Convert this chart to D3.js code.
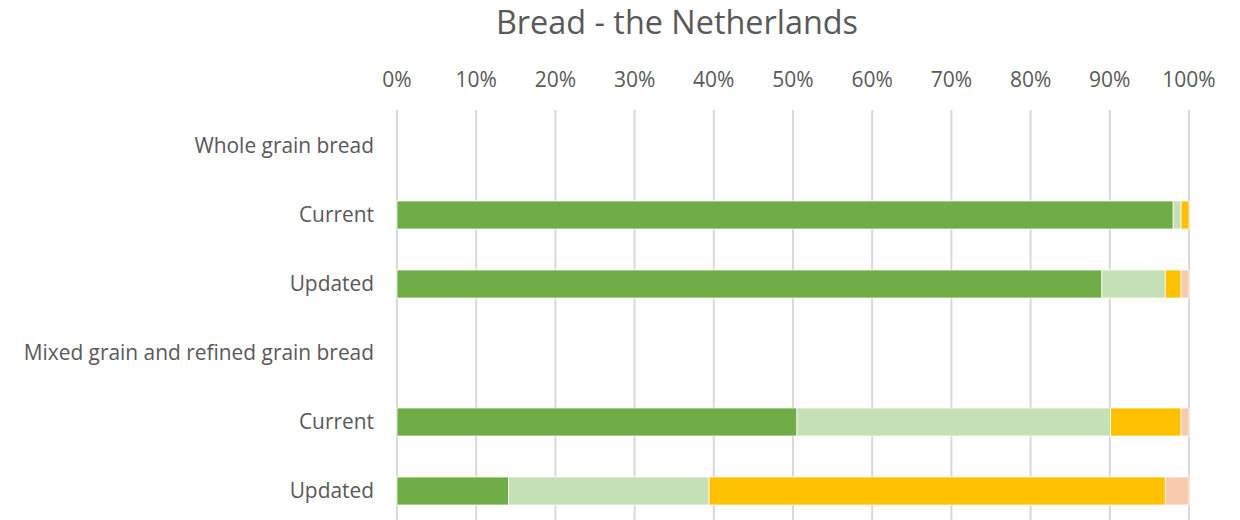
<!DOCTYPE html>
<html><head><meta charset="utf-8">
<script src="https://cdn.jsdelivr.net/npm/d3@7"></script>
<style>body{margin:0;background:#fff;} text{font-family:"Open Sans",sans-serif;fill:#595959;}</style>
</head><body>
<svg id="c" width="1240" height="520"></svg>
<script>
const title = "Bread - the Netherlands";
const rowLabels = ["Whole grain bread","Current","Updated","Mixed grain and refined grain bread","Current","Updated"];
const seriesNames = ["s1","s2","s3","s4"];
const s1 = [0, 98, 89, 0, 50.5, 14.1];
const s2 = [0, 1, 8, 0, 39.6, 25.3];
const s3 = [0, 1, 2, 0, 8.9, 57.6];
const s4 = [0, 0, 1, 0, 1, 3];
const colors = ["#70AD47","#C5E0B4","#FFC000","#F8CBAD"];
const xTicks = [0,0.1,0.2,0.3,0.4,0.5,0.6,0.7,0.8,0.9,1];

const svg = d3.select("#c");
const x = d3.scaleLinear().domain([0,1]).range([397,1189]);
const y = d3.scaleBand().domain(d3.range(rowLabels.length)).range([111.5,525.5]).paddingInner(0.594).paddingOuter(0.297);

svg.append("text").attr("x",677).attr("y",34).attr("text-anchor","middle")
  .style("font-size","32.4px").text(title);

svg.append("g").selectAll("line").data(xTicks).join("line")
  .attr("x1",d=>x(d)).attr("x2",d=>x(d)).attr("y1",110).attr("y2",520)
  .attr("stroke","#d9d9d9").attr("stroke-width",2);

svg.append("g").selectAll("text").data(xTicks).join("text")
  .attr("x",d=>x(d)).attr("y",87).attr("text-anchor","middle")
  .style("font-size","21px").text(d3.format(".0%"));

svg.append("g").selectAll("text").data(rowLabels).join("text")
  .attr("x",374).attr("y",(d,i)=>y(i)+y.bandwidth()/2).attr("dy","0.35em")
  .attr("text-anchor","end").style("font-size","20.9px").text(d=>d);

const table = rowLabels.map((r,i)=>({s1:s1[i]/100,s2:s2[i]/100,s3:s3[i]/100,s4:s4[i]/100,i}));
const stack = d3.stack().keys(seriesNames)(table);
svg.append("g").selectAll("g").data(stack).join("g").attr("fill",(d,k)=>colors[k])
  .selectAll("rect").data(d=>d.filter(p=>p[1]-p[0]>0)).join("rect")
  .attr("x",d=>x(d[0])).attr("width",d=>x(d[1])-x(d[0]))
  .attr("y",d=>y(d.data.i)).attr("height",y.bandwidth())
  .attr("stroke","#fff").attr("stroke-width",0.75);
</script>
</body></html>
